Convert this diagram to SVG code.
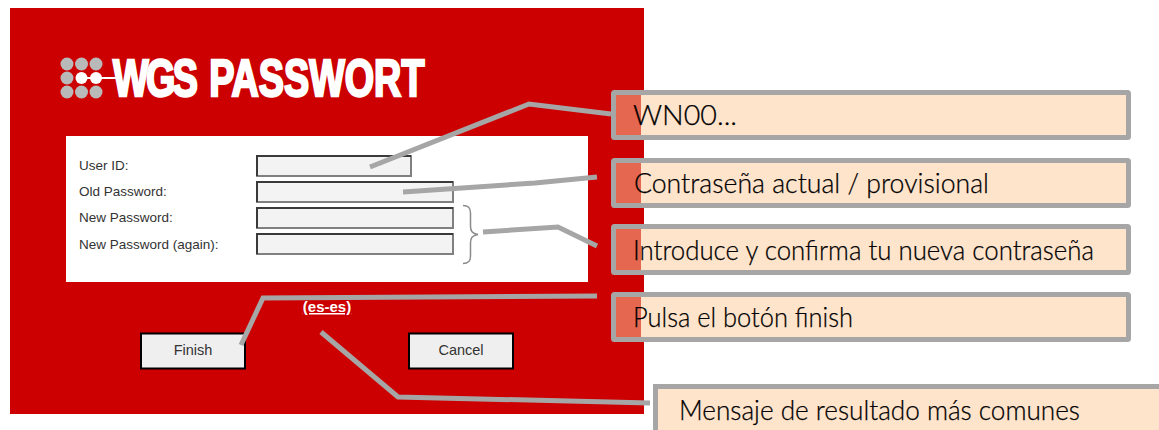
<svg xmlns="http://www.w3.org/2000/svg" width="1159" height="430" viewBox="0 0 1159 430">
<style>
.lbl{font-family:"Liberation Sans",Arial,sans-serif;font-size:13.500px;fill:#333}
.field{fill:#f3f3f3;stroke:#808080;stroke-width:2}
.edge{fill:none;stroke:#3a3a3a;stroke-width:2}
.btn{fill:#efefef;stroke:#000;stroke-width:2}
.btxt{font-family:"Liberation Sans",Arial,sans-serif;font-size:14.500px;fill:#333;text-anchor:middle}
.box{fill:#ffe4cc;stroke:#a6a6a6;stroke-width:5}
.ov{fill:#e5674f}
.ctxt{font-family:Lato,"Open Sans",sans-serif;font-size:27px;font-weight:300;fill:#000;stroke:#000;stroke-width:.25}
.conn{fill:none;stroke:#a6a6a6;stroke-width:5}
.g{fill:#b9b9b9}
.logo{font-family:"Liberation Sans",Arial,sans-serif;font-weight:700;font-size:51px;fill:#fff;stroke:#fff;stroke-width:2.500}
</style>
<rect width="1159" height="430" fill="#fff"/>
<g id="panel">
<rect x="10" y="8" width="634" height="406" fill="#cc0000"/>
<rect x="66" y="136" width="522" height="146" fill="#fff"/>
</g>
<g id="logo">
<circle class="g" cx="67" cy="64" r="6.500"/><circle class="g" cx="81.500" cy="64" r="6.500"/><circle class="g" cx="96" cy="64" r="6.500"/>
<circle class="g" cx="67" cy="78" r="6.500"/><circle cx="81.500" cy="78" r="6" fill="#fff"/><circle cx="96" cy="78" r="6" fill="#fff"/>
<circle class="g" cx="67" cy="92" r="6.500"/><circle class="g" cx="81.500" cy="92" r="6.500"/><circle class="g" cx="96" cy="92" r="6.500"/>
<rect x="81" y="77" width="36" height="2" fill="#fff"/>
<text class="logo" transform="translate(113 96) scale(.74 1)"><tspan letter-spacing="-3.500">WGS</tspan><tspan x="130">PASSWORT</tspan></text>
</g>
<g id="form">
<text class="lbl" x="79" y="170">User ID:</text>
<text class="lbl" x="79" y="196">Old Password:</text>
<text class="lbl" x="79" y="222">New Password:</text>
<text class="lbl" x="79" y="249">New Password (again):</text>
<rect class="field" x="257" y="156" width="154" height="20"/><path class="edge" d="M257 176V156H411"/>
<rect class="field" x="257" y="182" width="196" height="20"/><path class="edge" d="M257 202V182H453"/>
<rect class="field" x="257" y="208" width="196" height="20"/><path class="edge" d="M257 228V208H453"/>
<rect class="field" x="257" y="234" width="196" height="20"/><path class="edge" d="M257 254V234H453"/>
<path id="brace" d="M463 205.500C469 205.500 470.500 208 470.500 213V226C470.500 231 472 233.500 478 234.500C472 235.500 470.500 238 470.500 243V256C470.500 261 469 263.500 463 263.500" fill="none" stroke="#8a8a8a" stroke-width="1.500"/>
</g>
<g id="finish"><rect class="btn" x="141" y="333.500" width="104" height="35"/><text class="btxt" x="193" y="355">Finish</text></g>
<g id="cancel"><rect class="btn" x="409" y="333.500" width="104" height="35"/><text class="btxt" x="461" y="355">Cancel</text></g>
<g id="locale"><text x="327" y="312" font-family="Liberation Sans,Arial,sans-serif" font-weight="700" font-size="15" fill="#fff" text-anchor="middle" text-decoration="underline">(es-es)</text></g>
<g id="connectors">
<path class="conn" d="M370 167L529 104L611 114"/>
<path class="conn" d="M403 192L535 183L597 177"/>
<path class="conn" d="M483 232L558 227L597 246"/>
<path class="conn" d="M241 345L263 298L597 296"/>
<path class="conn" d="M321 332L398 397L650 403"/>
</g>
<g id="callout1"><rect class="box" x="613.500" y="92.500" width="515" height="45" rx="1"/><rect class="ov" x="616" y="95" width="25" height="40"/><text class="ctxt" x="633" y="125" textLength="104" lengthAdjust="spacingAndGlyphs">WN00...</text></g>
<g id="callout2"><rect class="box" x="613.500" y="160.500" width="515" height="45" rx="1"/><rect class="ov" x="616" y="163" width="25" height="40"/><text class="ctxt" x="634" y="193" textLength="355" lengthAdjust="spacingAndGlyphs">Contraseña actual / provisional</text></g>
<g id="callout3"><rect class="box" x="613.500" y="226.500" width="515" height="46" rx="1"/><rect class="ov" x="616" y="229" width="25" height="41"/><text class="ctxt" x="633" y="260" textLength="461" lengthAdjust="spacingAndGlyphs">Introduce y confirma tu nueva contraseña</text></g>
<g id="callout4"><rect class="box" x="613.500" y="294.500" width="515" height="45" rx="1"/><rect class="ov" x="616" y="297" width="25" height="40"/><text class="ctxt" x="633" y="327" textLength="220" lengthAdjust="spacingAndGlyphs">Pulsa el botón finish</text></g>
<g id="callout5"><rect class="box" x="655.500" y="386.500" width="520" height="60"/><text class="ctxt" x="679" y="420" textLength="401" lengthAdjust="spacingAndGlyphs">Mensaje de resultado más comunes</text></g>
</svg>
